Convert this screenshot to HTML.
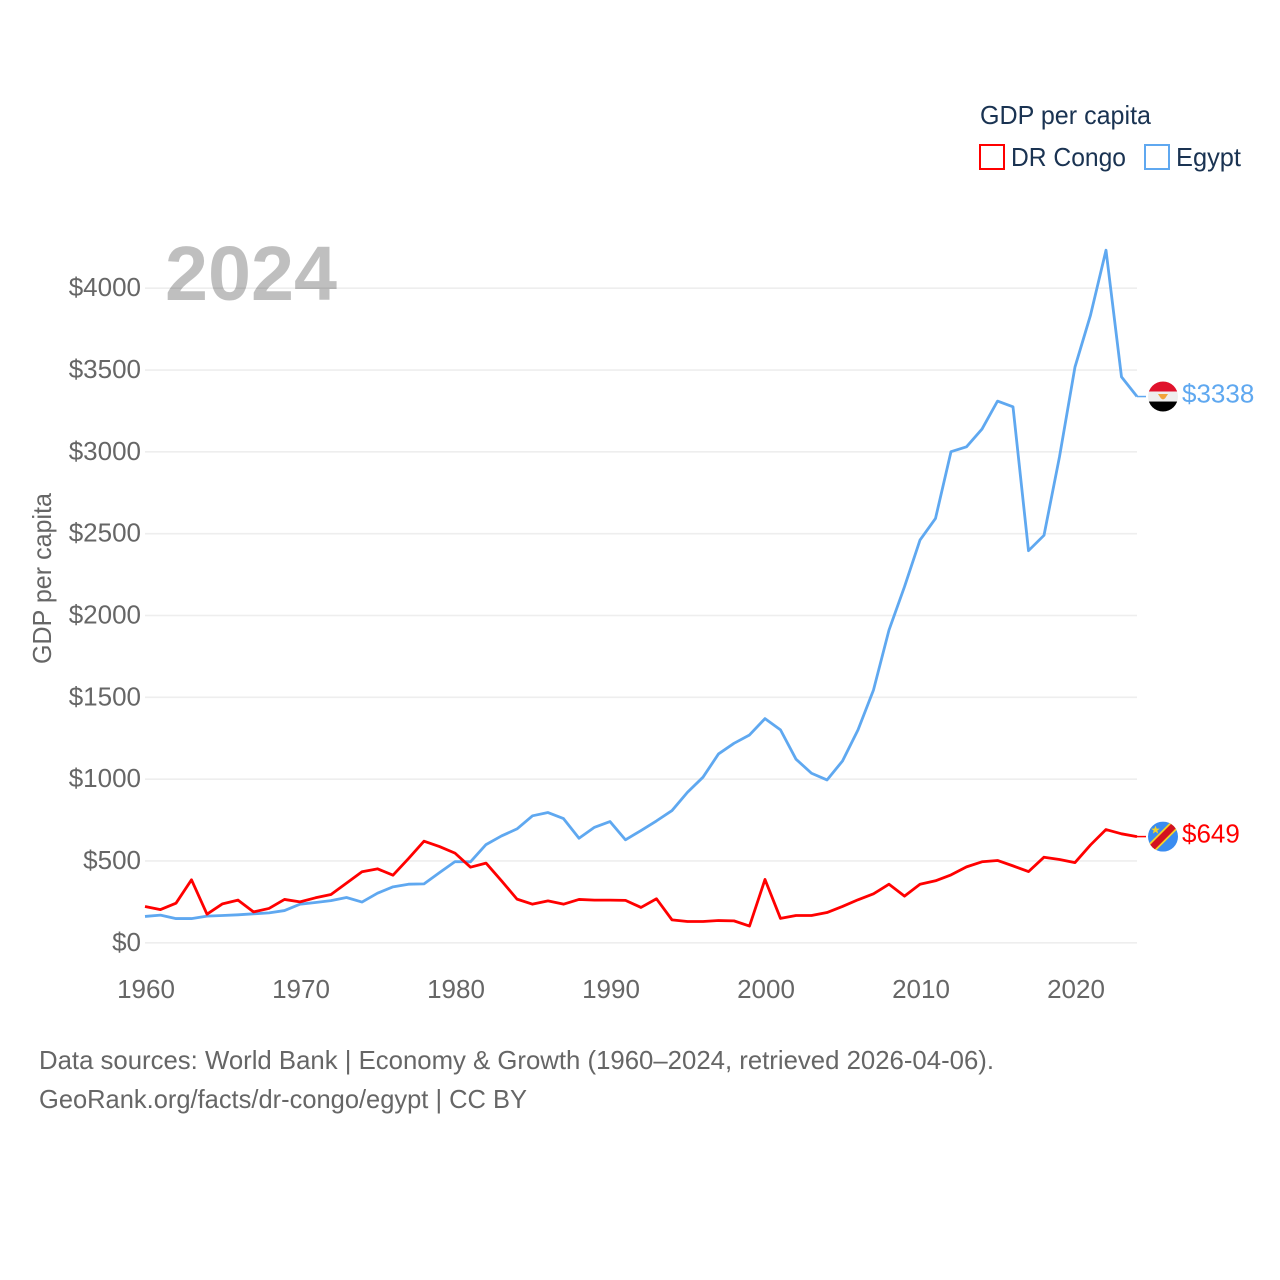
<!DOCTYPE html>
<html lang="en">
<head>
<meta charset="utf-8">
<title>GDP per capita: DR Congo and Egypt</title>
<style>
html,body{margin:0;padding:0;background:#fff;}
svg{display:block;font-family:"Liberation Sans",sans-serif;}
</style>
</head>
<body>
<svg id="chart" xmlns="http://www.w3.org/2000/svg" width="1280" height="1280" viewBox="0 0 1280 1280">
  <defs>
    <clipPath id="flag-clip-eg"><circle id="clip-eg" cx="1163" cy="396" r="15"></circle></clipPath>
    <clipPath id="flag-clip-cd"><circle id="clip-cd" cx="1163" cy="836" r="15"></circle></clipPath>
  </defs>
  <rect x="0" y="0" width="1280" height="1280" fill="#ffffff"></rect>
  <g id="grid"></g>
  <g id="y-ticks"></g>
  <g id="x-ticks"></g>
  <text x="165" y="300" font-size="77" font-weight="700" fill="#000000" fill-opacity="0.25" textLength="172" lengthAdjust="spacingAndGlyphs">2024</text>
  <text transform="translate(51,664) rotate(-90)" x="0" y="0" font-size="26" fill="#666666" textLength="171" lengthAdjust="spacingAndGlyphs">GDP per capita</text>
  <g id="series"></g>

  <g id="flag-egypt">
    <g clip-path="url(#flag-clip-eg)">
      <rect x="1148" y="381" width="30" height="10" fill="#e0122c"></rect>
      <rect x="1148" y="391" width="30" height="10" fill="#eeeeee"></rect>
      <rect x="1148" y="401" width="30" height="10" fill="#000000"></rect>
      <path d="M1158 393.500 L1168 393.500 L1165 398 L1163 399 L1161 398 Z" fill="#f2a33a"></path>
    </g>
  </g>
  <g id="flag-congo">
    <g clip-path="url(#flag-clip-cd)">
      <rect x="1148" y="821" width="30" height="30" fill="#3a8cf0"></rect>
      <path d="M1148 851 L1178 821" stroke="#f5d327" stroke-width="10" fill="none"></path>
      <path d="M1148 851 L1178 821" stroke="#d3121f" stroke-width="6.500" fill="none"></path>
      <path d="M1155.500 825 L1156.700 828 L1159.800 828 L1157.300 830 L1158.200 833 L1155.500 831.200 L1152.800 833 L1153.700 830 L1151.200 828 L1154.300 828 Z" fill="#f5d327"></path>
    </g>
  </g>
  <g id="value-labels"></g>

  <g>
    <text x="980" y="124" font-size="26" fill="#1a3352" textLength="171" lengthAdjust="spacingAndGlyphs">GDP per capita</text>
    <g>
      <rect x="980" y="145" width="24" height="24" fill="#ffffff" stroke="#ff0000" stroke-width="2"></rect>
      <text x="1011" y="166" font-size="26" fill="#1a3352" textLength="115" lengthAdjust="spacingAndGlyphs">DR Congo</text>
    </g>
    <g>
      <rect x="1145" y="145" width="24" height="24" fill="#ffffff" stroke="#5fa8f0" stroke-width="2"></rect>
      <text x="1176" y="166" font-size="26" fill="#1a3352" textLength="65" lengthAdjust="spacingAndGlyphs">Egypt</text>
    </g>
  </g>

  <g>
    <text x="39" y="1069" font-size="26" fill="#666666" textLength="955" lengthAdjust="spacingAndGlyphs">Data sources: World Bank | Economy &amp; Growth (1960–2024, retrieved 2026-04-06).</text>
    <text x="39" y="1108" font-size="26" fill="#666666" textLength="488" lengthAdjust="spacingAndGlyphs">GeoRank.org/facts/dr-congo/egypt | CC BY</text>
  </g>
</svg>

<script>
const firstYear = 1960;
const yTickValues = [0, 500, 1000, 1500, 2000, 2500, 3000, 3500, 4000];
const xTickYears = [1960, 1970, 1980, 1990, 2000, 2010, 2020];
const drCongoValues = [
  222, 203, 242, 385, 175, 238, 261, 189, 210, 265,
  250, 275, 295, 365, 434, 452, 413, 515, 621, 588,
  548, 462, 487, 379, 267, 236, 256, 236, 265, 261,
  261, 259, 216, 269, 140, 130, 130, 136, 134, 102,
  387, 149, 167, 167, 185, 222, 263, 299, 358, 285,
  358, 379, 415, 464, 495, 503, 470, 435, 523, 509,
  490, 598, 692, 666, 649
];
const egyptValues = [
  161, 169, 148, 148, 163, 167, 171, 177, 183, 197,
  236, 246, 258, 277, 249, 303, 342, 358, 360, 429,
  496, 495, 600, 653, 696, 776, 796, 759, 639, 706,
  741, 629, 686, 745, 808, 920, 1012, 1154, 1219, 1270,
  1370, 1301, 1122, 1036, 995, 1111, 1301, 1545, 1911, 2176,
  2461, 2593, 3001, 3031, 3139, 3310, 3275, 2396, 2490, 2970,
  3519, 3835, 4232, 3458, 3338
];

const SVG_NS = 'http://www.w3.org/2000/svg';
function xScale(year) { return 145 + (year - firstYear) * 15.5; }
function yScale(value) { return 942.8 - value * 0.16365; }
function make(tag, parent, attrs) {
  const el = document.createElementNS(SVG_NS, tag);
  Object.keys(attrs).forEach(function (k) { el.setAttribute(k, attrs[k]); });
  parent.appendChild(el);
  return el;
}

const grid = document.getElementById('grid');
const yTicks = document.getElementById('y-ticks');
const xTicks = document.getElementById('x-ticks');
const series = document.getElementById('series');
const valueLabels = document.getElementById('value-labels');

yTickValues.forEach(function (v) {
  const line = make('line', grid, { x1: 145, x2: 1137, y1: yScale(v), y2: yScale(v), stroke: '#eeeeee', 'stroke-width': 1.6 });
  
  
  const label = make('text', yTicks, { x: 141, y: yScale(v) + 8, 'text-anchor': 'end', 'font-size': 26, fill: '#666666' });
  
  
  label.textContent = '$' + v;
});

xTickYears.forEach(function (year) {
  const label = make('text', xTicks, { x: xScale(year) + 1, y: 998, 'text-anchor': 'middle', 'font-size': 26, fill: '#666666' });
  
  
  label.textContent = String(year);
});

function pointsFor(values) {
  return values.map(function (v, i) {
    return xScale(firstYear + i).toFixed(2) + ',' + yScale(v).toFixed(2);
  }).join(' ');
}

const egyptLine = make('polyline', series, { points: pointsFor(egyptValues), fill: 'none', stroke: '#5fa8f0', 'stroke-width': 2.8, 'stroke-linejoin': 'round' });



const congoLine = make('polyline', series, { points: pointsFor(drCongoValues), fill: 'none', stroke: '#ff0000', 'stroke-width': 2.8, 'stroke-linejoin': 'round' });



const lastX = xScale(firstYear + egyptValues.length - 1);
const egyptLast = egyptValues[egyptValues.length - 1];
const congoLast = drCongoValues[drCongoValues.length - 1];

const egyptLeader = make('line', series, { x1: lastX, x2: 1146, y1: yScale(egyptLast), y2: yScale(egyptLast), stroke: '#5fa8f0', 'stroke-width': 1.5 });



const congoLeader = make('line', series, { x1: lastX, x2: 1146, y1: yScale(congoLast), y2: yScale(congoLast), stroke: '#ff0000', 'stroke-width': 1.5 });



document.getElementById('flag-egypt').setAttribute('transform', 'translate(0,' + (yScale(egyptLast) - 396).toFixed(2) + ')');
document.getElementById('flag-congo').setAttribute('transform', 'translate(0,' + (yScale(congoLast) - 836).toFixed(2) + ')');

const egyptValue = make('text', valueLabels, { x: 1182, y: yScale(egyptLast) + 6, 'font-size': 26, fill: '#5fa8f0' });


egyptValue.textContent = '$' + egyptLast;

const congoValue = make('text', valueLabels, { x: 1182, y: yScale(congoLast) + 6, 'font-size': 26, fill: '#ff0000' });


congoValue.textContent = '$' + congoLast;
</script>
</body>
</html>
